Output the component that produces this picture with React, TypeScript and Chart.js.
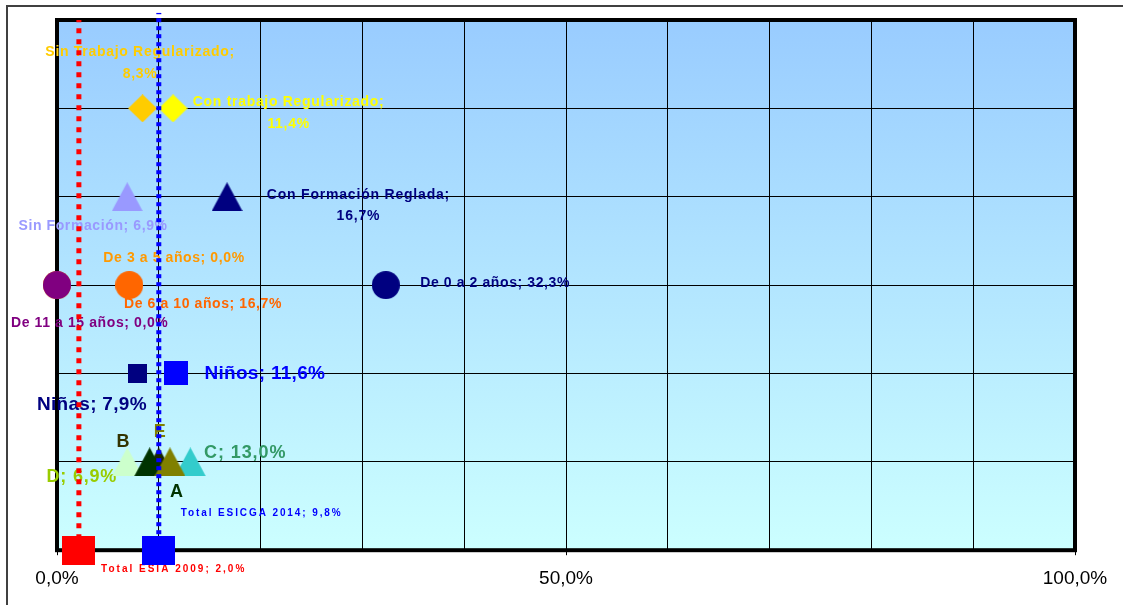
import React, { useEffect, useRef } from 'react';
import { Chart, registerables } from 'chart.js';

Chart.register(...registerables);

// ---------------- data ----------------
const X_MIN = 0;
const X_MAX = 100;
const X_GRID_STEP = 10;
const X_LABELED_TICKS = [0, 50, 100];
const Y_MIN = 0;
const Y_MAX = 6;

// series, in drawing order (first = bottom)
const SERIES_NAMES = [
  'De 3 a 5 años',
  'De 11 a 15 años',
  'De 6 a 10 años',
  'De 0 a 2 años',
  'Sin Formación',
  'Con Formación Reglada',
  'Sin Trabajo Regularizado',
  'Con trabajo Regularizado',
  'Niñas',
  'Niños',
  'C',
  'D',
  'B',
  'A',
  'E',
  'Total ESIA 2009',
  'Total ESICGA 2014',
];
const SERIES_X = [0.0, 0.0, 7.1, 32.3, 6.9, 16.7, 8.4, 11.4, 7.9, 11.7, 13.1, 6.9, 10.0, 9.1, 11.1, 2.15, 10.0];
const SERIES_ROW = [3, 3, 3, 3, 4, 4, 5, 5, 2, 2, 1, 1, 1, 1, 1, 0, 0];
const SERIES_TEXT: string[][] = [
  ['De 3 a 5 años; 0,0%'],
  ['De 11 a 15 años; 0,0%'],
  ['De 6 a 10 años; 16,7%'],
  ['De 0 a 2 años; 32,3%'],
  ['Sin Formación; 6,9%'],
  ['Con Formación Reglada;', '16,7%'],
  ['Sin Trabajo Regularizado;', '8,3%'],
  ['Con trabajo Regularizado;', '11,4%'],
  ['Niñas; 7,9%'],
  ['Niños; 11,6%'],
  ['C; 13,0%'],
  ['D; 6,9%'],
  ['B'],
  ['A'],
  ['E'],
  ['Total ESIA 2009; 2,0%'],
  ['Total ESICGA 2014; 9,8%'],
];

// reference (dotted) lines
const REF_NAMES = ['Total ESIA 2009', 'Total ESICGA 2014'];
const REF_X = [2.15, 10.0];
const REF_Y_FROM = [0, 0];
const REF_Y_TO = [6, 6.08];

// ---------------- styles ----------------
const FONT = "'Liberation Sans', Arial, Helvetica, sans-serif";

type Shape = 'rect' | 'diamond' | 'triangle' | 'circle';
interface Sty {
  shape: Shape; w: number; h: number; color: string;
  lc: string; size: number; sp: number; dx: number; dy: number; lh: number;
}
const STYLES: Sty[] = [
  { shape: 'circle', w: 28, h: 28, color: '#FF9900', lc: '#FF9900', size: 14, sp: 0.6, dx: 116.7, dy: -27, lh: 0 },
  { shape: 'circle', w: 28, h: 28, color: '#800080', lc: '#800080', size: 14, sp: 0.6, dx: 32.4, dy: 38, lh: 0 },
  { shape: 'circle', w: 28, h: 28, color: '#FF6600', lc: '#FF6600', size: 14, sp: 0.6, dx: 73.4, dy: 18.75, lh: 0 },
  { shape: 'circle', w: 28, h: 28, color: '#000080', lc: '#000080', size: 14, sp: 0.6, dx: 109, dy: -2, lh: 0 },
  { shape: 'triangle', w: 31, h: 29, color: '#9999FF', lc: '#9999FF', size: 14, sp: 0.6, dx: -34.5, dy: 29.5, lh: 0 },
  { shape: 'triangle', w: 31, h: 29, color: '#000080', lc: '#000080', size: 14, sp: 0.8, dx: 131, dy: -2, lh: 21 },
  { shape: 'diamond', w: 29, h: 28, color: '#FFCC00', lc: '#FFCC00', size: 14, sp: 0.7, dx: -2.8, dy: -55.75, lh: 22 },
  { shape: 'diamond', w: 29, h: 28, color: '#FFFF00', lc: '#FFFF00', size: 14, sp: 0.7, dx: 115.2, dy: -5.75, lh: 22 },
  { shape: 'rect', w: 19, h: 19, color: '#000080', lc: '#000080', size: 19, sp: 0.3, dx: -45.7, dy: 31.5, lh: 0 },
  { shape: 'rect', w: 24, h: 24, color: '#0000FF', lc: '#0000FF', size: 19, sp: 0.3, dx: 88.6, dy: 0.5, lh: 0 },
  { shape: 'triangle', w: 31, h: 29, color: '#33CCCC', lc: '#339966', size: 18, sp: 0.9, dx: 54.4, dy: -8.5, lh: 0 },
  { shape: 'triangle', w: 31, h: 29, color: '#CCFFCC', lc: '#99CC00', size: 18, sp: 0.8, dx: -45.8, dy: 15, lh: 0 },
  { shape: 'triangle', w: 31, h: 29, color: '#1A2600', lc: '#333300', size: 18, sp: 0, dx: -35.8, dy: -19.75, lh: 0 },
  { shape: 'triangle', w: 31, h: 29, color: '#003300', lc: '#003300', size: 18, sp: 0, dx: 26.8, dy: 30, lh: 0 },
  { shape: 'triangle', w: 31, h: 29, color: '#808000', lc: '#808000', size: 18, sp: 0, dx: -10.3, dy: -30, lh: 0 },
  { shape: 'rect', w: 33, h: 29, color: '#FF0000', lc: '#FF0000', size: 10, sp: 2, dx: 93.8, dy: 19, lh: 0 },
  { shape: 'rect', w: 33, h: 29, color: '#0000FF', lc: '#0000FF', size: 10, sp: 1.9, dx: 101.9, dy: -37, lh: 0 },
];
const REF_STYLES = [
  { color: '#FF0000', width: 5, dash: [5, 6] },
  { color: '#0000FF', width: 5, dash: [4, 4] },
];

function makeMarker(s: Sty): HTMLCanvasElement {
  const c = document.createElement('canvas');
  c.width = s.w;
  c.height = s.h;
  const g = c.getContext('2d')!;
  g.fillStyle = s.color;
  g.beginPath();
  const w = s.w, h = s.h;
  if (s.shape === 'rect') {
    g.rect(0, 0, w, h);
  } else if (s.shape === 'diamond') {
    g.moveTo(w / 2, 0); g.lineTo(w, h / 2); g.lineTo(w / 2, h); g.lineTo(0, h / 2); g.closePath();
  } else if (s.shape === 'triangle') {
    g.moveTo(w / 2, 0); g.lineTo(w, h); g.lineTo(0, h); g.closePath();
  } else {
    g.ellipse(w / 2, h / 2, w / 2, h / 2, 0, 0, Math.PI * 2);
  }
  g.fill();
  return c;
}

const framePlugin = {
  id: 'frameAndBg',
  beforeDraw(chart: any) {
    const { ctx, chartArea: a } = chart;
    ctx.save();
    // outer frame
    ctx.fillStyle = '#404040';
    ctx.fillRect(6, 5, chart.width - 6, 2);
    ctx.fillRect(6, 5, 2, chart.height - 5);
    // plot background gradient
    const grad = ctx.createLinearGradient(0, a.top, 0, a.bottom);
    grad.addColorStop(0, '#99CCFF');
    grad.addColorStop(1, '#CCFFFF');
    ctx.fillStyle = grad;
    ctx.fillRect(a.left, a.top, a.right - a.left, a.bottom - a.top);
    ctx.restore();
  },
  beforeDatasetsDraw(chart: any) {
    const { ctx, chartArea: a } = chart;
    ctx.save();
    ctx.strokeStyle = '#000';
    ctx.lineWidth = 4;
    ctx.strokeRect(a.left, a.top, a.right - a.left, a.bottom - a.top);
    // point labels
    chart.data.datasets.forEach((ds: any, i: number) => {
      if (ds.labelIndex === undefined) return;
      const k = ds.labelIndex;
      const s = STYLES[k];
      const pt = chart.getDatasetMeta(i).data[0];
      if (!pt) return;
      ctx.font = `bold ${s.size}px ${FONT}`;
      (ctx as any).letterSpacing = `${s.sp}px`;
      ctx.fillStyle = s.lc;
      ctx.textAlign = 'center';
      ctx.textBaseline = 'middle';
      SERIES_TEXT[k].forEach((line, j) => {
        ctx.fillText(line, pt.x + s.dx + s.sp / 2, pt.y + s.dy + j * s.lh);
      });
    });
    (ctx as any).letterSpacing = '0px';
    ctx.restore();
  },
};

export default function App() {
  const ref = useRef<HTMLCanvasElement | null>(null);

  useEffect(() => {
    if (!ref.current) return;
    const N = SERIES_NAMES.length;
    const markerSets = SERIES_NAMES.map((name, i) => ({
      type: 'scatter' as const,
      label: name,
      labelIndex: i,
      data: [{ x: SERIES_X[i], y: SERIES_ROW[i] }],
      pointStyle: makeMarker(STYLES[i]),
      pointRadius: 6,
      clip: false as any,
      order: N - i + 1,
    }));
    const refSets = REF_NAMES.map((name, i) => ({
      type: 'line' as const,
      label: name + ' (línea)',
      data: [
        { x: REF_X[i], y: REF_Y_FROM[i] },
        { x: REF_X[i], y: REF_Y_TO[i] },
      ],
      borderColor: REF_STYLES[i].color,
      borderWidth: REF_STYLES[i].width,
      borderDash: REF_STYLES[i].dash,
      borderCapStyle: 'butt' as const,
      pointRadius: 0,
      showLine: true,
      fill: false,
      clip: false as any,
      order: 0,
    }));

    const chart = new Chart(ref.current, {
      type: 'scatter',
      data: { datasets: [...markerSets, ...refSets] as any },
      options: {
        responsive: false,
        animation: false,
        events: [],
        layout: { padding: { left: 57, right: 48, top: 20, bottom: 3 } },
        plugins: { legend: { display: false }, tooltip: { enabled: false } },
        scales: {
          x: {
            type: 'linear',
            min: X_MIN,
            max: X_MAX,
            border: { display: false },
            grid: {
              color: '#000',
              lineWidth: 1,
              drawTicks: true,
              tickLength: 5,
              tickColor: (c: any) =>
                c.tick && X_LABELED_TICKS.includes(c.tick.value) ? '#000' : 'rgba(0,0,0,0)',
            },
            ticks: {
              stepSize: X_GRID_STEP,
              autoSkip: false,
              maxRotation: 0,
              padding: 12,
              color: '#000',
              font: { family: FONT, size: 19 },
              callback: (v: any) =>
                X_LABELED_TICKS.includes(Number(v)) ? Number(v).toFixed(1).replace('.', ',') + '%' : '',
            },
          },
          y: {
            type: 'linear',
            min: Y_MIN,
            max: Y_MAX,
            border: { display: false },
            grid: { color: '#000', lineWidth: 1, drawTicks: false },
            ticks: { display: false, stepSize: 1 },
          },
        },
      },
      plugins: [framePlugin],
    });
    return () => chart.destroy();
  }, []);

  return (
    <div style={{ position: 'fixed', left: 0, top: 0, width: 1123, height: 605, background: '#fff' }}>
      <canvas ref={ref} width={1123} height={605} style={{ display: 'block', width: 1123, height: 605 }} />
    </div>
  );
}
